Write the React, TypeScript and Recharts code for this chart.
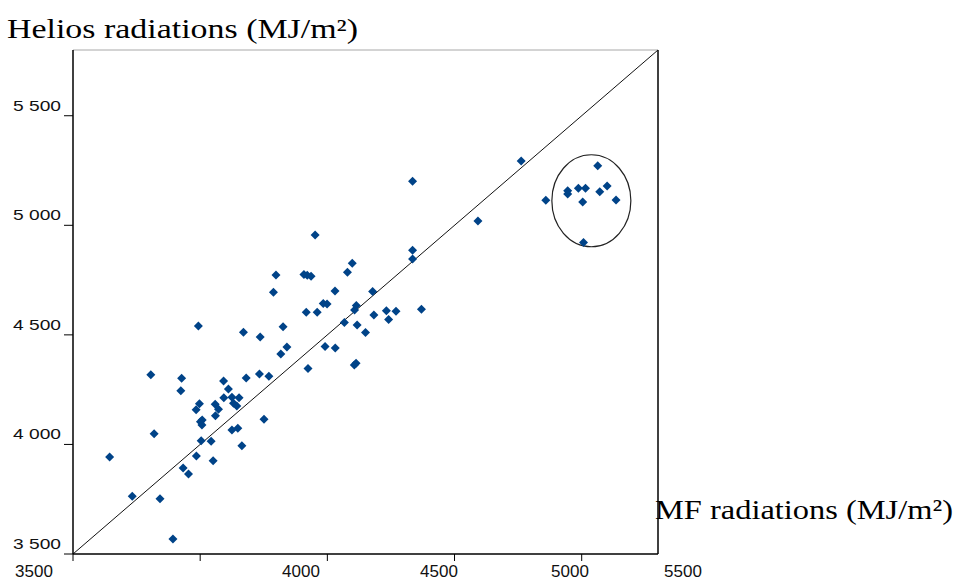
import React from "react";
import {
  ScatterChart,
  Scatter,
  XAxis,
  YAxis,
  ReferenceLine,
  ReferenceDot,
} from "recharts";

// MF radiations (x) vs Helios radiations (y), MJ/m²
const mfValues = [
  3644, 3733, 3842, 3893, 3806, 3819, 3927, 3924, 3933, 3954,
  3993, 3984, 3997, 4008, 4001, 4007, 3985, 4004, 4043, 4051,
  4059, 4072, 4060, 4092, 4111, 4093, 4125, 4153, 4131, 4144,
  4125, 4148, 4164, 4170, 4181, 4233, 4236, 4251, 4270, 4288,
  4298, 4317, 4326, 4341, 4408, 4421, 4436, 4417, 4424, 4452,
  4460, 4484, 4499, 4491, 4530, 4531, 4567, 4579, 4598, 4607,
  4614, 4617, 4613, 4606, 4650, 4678, 4683, 4732, 4770, 4741,
  4835, 4835, 4835, 4870, 5092, 5262, 5359, 5445, 5445, 5487,
  5515, 5504, 5563, 5571, 5600, 5635, 5507,
];
const heliosValues = [
  3943, 3763, 3752, 3568, 4318, 4049, 4302, 4245, 3892, 3865,
  4540, 4158, 4186, 4112, 4104, 4089, 3947, 4017, 4014, 3926,
  4183, 4160, 4131, 4290, 4253, 4213, 4215, 4213, 4188, 4175,
  4066, 4074, 3994, 4512, 4303, 4321, 4490, 4115, 4311, 4694,
  4773, 4413, 4537, 4445, 4775, 4772, 4767, 4603, 4347, 4956,
  4603, 4643, 4641, 4447, 4700, 4440, 4556, 4786, 4827, 4613,
  4634, 4545, 4370, 4362, 4511, 4698, 4591, 4610, 4608, 4570,
  5201, 4886, 4846, 4617, 5020, 5293, 5114, 5158, 5143, 5169,
  5169, 5106, 5272, 5153, 5179, 5115, 4922,
];

const axisTicks = [3500, 4000, 4500, 5000, 5500];
const xTickLabels = ["3500", "4000", "4500", "5000", "5500"];
const domain: [number, number] = [3500, 5800];
// circled cluster
const clusterCenter = { mf: 5538, helios: 5112 };

// layout of the loose x labels (they do not sit under the ticks in the source)
const xLabelCenters = [34, 301, 439, 570, 683];

const points = mfValues.map((mf, i) => ({ mf, helios: heliosValues[i] }));

const BLUE = "#004388";

const fmtSpace = (v: number) => String(v).replace(/\B(?=(\d{3})+(?!\d))/g, " ");

function Diamond(props: any) {
  const { cx, cy } = props;
  const r = 4.5;
  return (
    <polygon
      points={`${cx},${cy - r} ${cx + r},${cy} ${cx},${cy + r} ${cx - r},${cy}`}
      fill={BLUE}
    />
  );
}

function YTick(props: any) {
  const { x, y, payload } = props;
  return (
    <text
      x={x}
      y={y - 5}
      textAnchor="end"
      fontSize={15}
      fill="#111"
      textLength={48}
      lengthAdjust="spacingAndGlyphs"
    >
      {fmtSpace(payload.value)}
    </text>
  );
}

function Ellipse(props: any) {
  const { cx, cy } = props;
  return <ellipse cx={cx} cy={cy} rx={39.5} ry={46} fill="none" stroke="#222" strokeWidth={1.2} />;
}

export default function App() {
  return (
    <div
      style={{
        position: "absolute",
        left: 0,
        top: 0,
        width: 961,
        height: 582,
        background: "#fff",
        fontFamily: '"Liberation Sans", Arial, sans-serif',
      }}
    >
      <ScatterChart
        width={961}
        height={582}
        margin={{ top: 50, right: 303, bottom: 0, left: 0 }}
      >
        <XAxis
          type="number"
          dataKey="mf"
          domain={domain}
          ticks={axisTicks}
          height={28}
          tickSize={7}
          tick={() => <g />}
          tickLine={{ stroke: "#000" }}
          axisLine={{ stroke: "#000", strokeWidth: 1.5 }}
          allowDataOverflow
        />
        <YAxis
          type="number"
          dataKey="helios"
          domain={domain}
          ticks={axisTicks}
          width={73}
          tickSize={9}
          tickMargin={3}
          tick={<YTick />}
          tickLine={{ stroke: "#000" }}
          axisLine={{ stroke: "#000", strokeWidth: 1.5 }}
          allowDataOverflow
        />
        {/* plot frame: gray top, black right */}
        <ReferenceLine y={domain[1]} stroke="#a8a8a8" strokeWidth={1} />
        <ReferenceLine x={domain[1]} stroke="#000" strokeWidth={1.5} />
        <ReferenceLine
          segment={[
            { x: domain[0], y: domain[0] },
            { x: domain[1], y: domain[1] },
          ]}
          stroke="#111"
          strokeWidth={1}
        />
        <ReferenceDot
          x={clusterCenter.mf}
          y={clusterCenter.helios}
          shape={(p: any) => <Ellipse {...p} />}
        />
        <Scatter data={points} shape={<Diamond />} isAnimationActive={false} />
      </ScatterChart>
      <svg
        width={961}
        height={582}
        style={{ position: "absolute", left: 0, top: 0, pointerEvents: "none" }}
      >
        <text
          x={7}
          y={38}
          fontFamily='"Liberation Serif", "Times New Roman", serif'
          fontSize={27}
          fill="#000"
          textLength={351}
          lengthAdjust="spacingAndGlyphs"
        >
          Helios radiations (MJ/m²)
        </text>
        <text
          x={655}
          y={519}
          fontFamily='"Liberation Serif", "Times New Roman", serif'
          fontSize={28}
          fill="#000"
          textLength={298}
          lengthAdjust="spacingAndGlyphs"
        >
          MF radiations (MJ/m²)
        </text>
        {xTickLabels.map((label, i) => (
          <text
            key={label}
            x={xLabelCenters[i]}
            y={577}
            textAnchor="middle"
            fontFamily='"Liberation Sans", Arial, sans-serif'
            fontSize={17}
            fill="#111"
          >
            {label}
          </text>
        ))}
      </svg>
    </div>
  );
}
